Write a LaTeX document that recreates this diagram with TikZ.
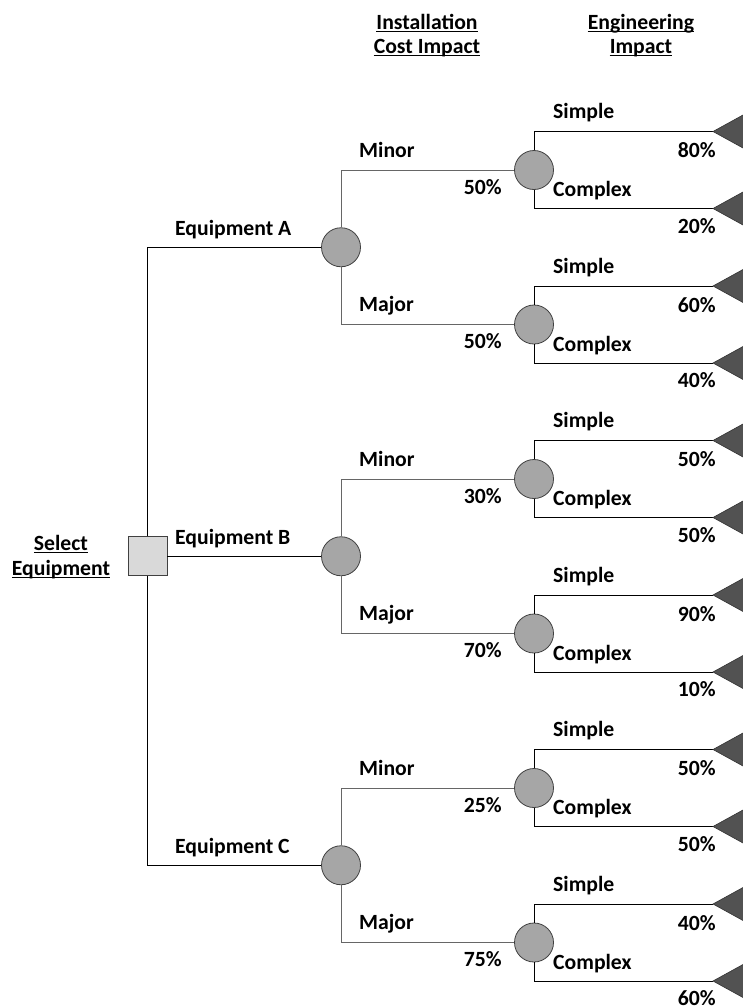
\documentclass[tikz,border=0pt]{standalone}
\usepackage{fontspec}
\setmainfont{Carlito}
\begin{document}
\begin{tikzpicture}[x=1pt,y=-1pt,
  lbl/.style={font=\bfseries\fontsize{21.7}{26}\selectfont, inner sep=0pt},
  decision/.style={draw=black!75, fill=black!15, minimum size=39pt, inner sep=0pt, line width=0.8pt},
  chance/.style={circle, draw=black!75, fill=black!35, minimum size=39pt, inner sep=0pt, line width=0.8pt},
  branch/.style={line width=1pt, draw=black},
  link/.style={line width=1pt, draw=black!60},
  terminal/.style={fill=black!68, draw=black!80, line width=0.6pt},
  uline/.style={line width=1.3pt, draw=black},
]
\useasboundingbox (0,0) rectangle (742,1007);

% column headings
\node[lbl, anchor=base] (h1a) at (427,29) {Installation};
\node[lbl, anchor=base] (h1b) at (427,53) {Cost Impact};
\node[lbl, anchor=base] (h2a) at (641,29) {Engineering};
\node[lbl, anchor=base] (h2b) at (641,53) {Impact};
\node[lbl, anchor=base] (s1) at (61,550) {Select};
\node[lbl, anchor=base] (s2) at (61,575) {Equipment};
\foreach \h in {h1a,h1b,h2a,h2b,s1,s2}
  \draw[uline] ([yshift=-2.5pt]\h.base west) -- ([yshift=-2.5pt]\h.base east);

% decision node
\node[decision] (root) at (147.5,556.25) {};

% equipment choices
\foreach \e/\y/\name in {A/247.25/Equipment A, B/556.25/Equipment B, C/865.25/Equipment C} {
  \node[chance] (e\e) at (341,\y) {};
  \node[lbl, anchor=base west] (le\e) at (175,\y-12) {\name};
}
\draw[branch] (root) |- (eA);
\draw[branch] (root) -- (eB);
\draw[branch] (root) |- (eC);

% cost impact and engineering impact
\foreach \e/\k/\cost/\y/\p/\ps/\pc in {
    A/1/Minor/170/50/80/20, A/2/Major/324.5/50/60/40,
    B/1/Minor/479/30/50/50, B/2/Major/633.5/70/90/10,
    C/1/Minor/788/25/50/50, C/2/Major/942.5/75/40/60} {
  \node[chance] (c\e\k) at (534,\y) {};
  \draw[link] (e\e) |- (c\e\k);
  \node[lbl, anchor=base west] (lc\e\k) at (359,\y-13) {\cost};
  \node[lbl, anchor=base east] (pc\e\k) at (502,\y+24) {\p\%};
  \coordinate (t\e\k s) at (713,\y-38.5);
  \coordinate (t\e\k c) at (713,\y+38.5);
  \draw[branch] (c\e\k) |- (t\e\k s);
  \draw[branch] (c\e\k) |- (t\e\k c);
  \filldraw[terminal] (t\e\k s) -- ++(40,-22) -- ++(0,44) -- cycle;
  \filldraw[terminal] (t\e\k c) -- ++(40,-22) -- ++(0,44) -- cycle;
  \node[lbl, anchor=base west] (ls\e\k) at (553,\y-51.5) {Simple};
  \node[lbl, anchor=base east] (ps\e\k) at (716,\y-12.5) {\ps\%};
  \node[lbl, anchor=base west] (lx\e\k) at (553,\y+26.5) {Complex};
  \node[lbl, anchor=base east] (px\e\k) at (716,\y+63) {\pc\%};
}
\end{tikzpicture}
\end{document}
